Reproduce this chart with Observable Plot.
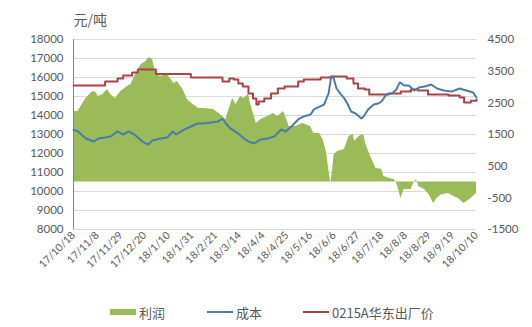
<!DOCTYPE html>
<html><head><meta charset="utf-8">
<script src="https://cdn.jsdelivr.net/npm/d3@7"></script>
<script src="https://cdn.jsdelivr.net/npm/@observablehq/plot@0.6"></script>
<style>
body{margin:0;background:#fff;font-family:Lato,"Noto Sans CJK SC",sans-serif;}
#wrap{position:relative;width:532px;height:327px;overflow:hidden;}
#legend{position:absolute;top:303px;left:0;width:532px;height:18px;font-size:13px;color:#595959;font-family:"Noto Sans CJK SC",Lato,sans-serif;}
.item{position:absolute;top:0;height:18px;display:flex;align-items:center;white-space:nowrap;}
.sw{display:inline-block;margin-right:3px;}
</style></head><body>
<div id="wrap"><div id="chart"></div><div id="legend"></div></div>
<script>
// ---- data ----
const profitDates = ["2017-10-18","2017-10-22","2017-10-29","2017-11-04","2017-11-07","2017-11-09","2017-11-13","2017-11-17","2017-11-20","2017-11-24","2017-11-29","2017-12-05","2017-12-08","2017-12-12","2017-12-17","2017-12-21","2017-12-24","2017-12-27","2017-12-30","2018-01-03","2018-01-09","2018-01-15","2018-01-18","2018-01-23","2018-01-27","2018-02-01","2018-02-06","2018-02-10","2018-02-19","2018-02-24","2018-03-02","2018-03-05","2018-03-08","2018-03-11","2018-03-15","2018-03-18","2018-03-22","2018-03-24","2018-03-29","2018-04-02","2018-04-08","2018-04-13","2018-04-17","2018-04-22","2018-04-24","2018-04-27","2018-05-03","2018-05-09","2018-05-16","2018-05-19","2018-05-24","2018-05-27","2018-05-30","2018-06-01","2018-06-03","2018-06-06","2018-06-09","2018-06-15","2018-06-19","2018-06-23","2018-06-24","2018-06-28","2018-07-02","2018-07-04","2018-07-09","2018-07-13","2018-07-18","2018-07-20","2018-07-25","2018-07-29","2018-07-31","2018-08-03","2018-08-04","2018-08-07","2018-08-13","2018-08-16","2018-08-18","2018-08-20","2018-08-25","2018-08-29","2018-09-02","2018-09-05","2018-09-09","2018-09-15","2018-09-20","2018-09-24","2018-09-29","2018-10-04","2018-10-10"];
const profitValues = [2230,2230,2640,2860,2830,2700,2760,2920,2760,2640,2860,3020,3080,3400,3710,3800,3930,3870,3430,3330,3400,3110,3170,2920,2600,2450,2320,2320,2290,2160,1970,2320,2640,2450,2700,2640,2760,2450,1850,1970,2070,2160,2070,2230,2070,1750,1750,1850,1750,1530,1530,1340,960,430,-50,870,960,1030,1440,1500,1280,1440,1500,1190,740,430,400,170,110,80,-10,-360,-520,-240,-240,0,80,-160,-240,-400,-680,-520,-400,-360,-460,-520,-680,-550,-360];

const costDates = ["2017-10-18","2017-10-22","2017-10-29","2017-11-05","2017-11-09","2017-11-15","2017-11-20","2017-11-26","2017-12-01","2017-12-06","2017-12-12","2017-12-18","2017-12-23","2017-12-27","2018-01-03","2018-01-09","2018-01-14","2018-01-17","2018-01-24","2018-01-30","2018-02-05","2018-02-10","2018-02-17","2018-02-23","2018-02-27","2018-03-02","2018-03-06","2018-03-13","2018-03-18","2018-03-22","2018-03-27","2018-04-02","2018-04-08","2018-04-14","2018-04-20","2018-04-24","2018-04-29","2018-05-05","2018-05-10","2018-05-16","2018-05-19","2018-05-24","2018-05-28","2018-06-01","2018-06-03","2018-06-05","2018-06-08","2018-06-12","2018-06-15","2018-06-18","2018-06-21","2018-06-25","2018-06-30","2018-07-02","2018-07-06","2018-07-11","2018-07-15","2018-07-18","2018-07-22","2018-07-27","2018-07-31","2018-08-03","2018-08-07","2018-08-11","2018-08-16","2018-08-20","2018-08-25","2018-08-31","2018-09-05","2018-09-11","2018-09-18","2018-09-25","2018-10-01","2018-10-07","2018-10-10"];
const costValues = [13260,13160,12790,12630,12790,12840,12900,13160,13000,13160,12950,12630,12470,12680,12790,12840,13160,13000,13260,13420,13580,13580,13630,13680,13840,13580,13320,13050,12790,12630,12530,12740,12790,12900,13260,13160,13420,13790,13950,14050,14320,14470,14580,15160,15950,16050,15420,15100,14900,14580,14210,14100,13840,13950,14320,14580,14630,14750,15100,15160,15370,15740,15580,15580,15320,15470,15530,15630,15420,15320,15260,15420,15320,15210,14950];

const priceDates = ["2017-10-18","2017-11-15","2017-11-26","2017-12-01","2017-12-09","2017-12-14","2017-12-30","2018-01-30","2018-02-27","2018-03-05","2018-03-09","2018-03-13","2018-03-17","2018-03-22","2018-03-26","2018-03-29","2018-03-31","2018-04-05","2018-04-11","2018-04-17","2018-04-23","2018-05-05","2018-05-10","2018-05-25","2018-06-03","2018-06-17","2018-06-23","2018-06-27","2018-07-03","2018-07-07","2018-07-24","2018-08-04","2018-08-13","2018-08-19","2018-08-28","2018-09-15","2018-09-25","2018-09-29","2018-10-05","2018-10-10"];
const priceValues = [15580,15790,15950,16100,16260,16420,16180,16000,15790,15950,15900,15680,15530,15160,14900,14580,14740,14900,15160,15420,15530,15790,15900,16000,16050,15950,15680,15420,15370,15100,15160,15260,15370,15320,15100,15050,14950,14680,14780,14840];

const tickDates = ["2017-10-18","2017-11-08","2017-11-29","2017-12-20","2018-01-10","2018-01-31","2018-02-21","2018-03-14","2018-04-04","2018-04-25","2018-05-16","2018-06-06","2018-06-27","2018-07-18","2018-08-08","2018-08-29","2018-09-19","2018-10-10"];
const leftTicks = [8000,9000,10000,11000,12000,13000,14000,15000,16000,17000,18000];
const rightTicks = [-1500,-500,500,1500,2500,3500,4500];
const seriesNames = ["利润","成本","0215A华东出厂价"];
const seriesColors = ["#9bbb59","#4a7bab","#ab4249"];
const unitLabel = "元/吨";

// ---- build ----
const parse = d3.utcParse("%Y-%m-%d");
const leftDomain = [8000, 18000];
const rightDomain = [-1500, 4500];
const toLeft = v => leftDomain[0] + (v - rightDomain[0]) * (leftDomain[1]-leftDomain[0]) / (rightDomain[1]-rightDomain[0]);
const fromLeft = y => Math.round(rightDomain[0] + (y - leftDomain[0]) * (rightDomain[1]-rightDomain[0]) / (leftDomain[1]-leftDomain[0]));

const profit = profitDates.map((d,i) => ({date: parse(d), v: profitValues[i]}));
const cost = costDates.map((d,i) => ({date: parse(d), v: costValues[i]}));
const price = priceDates.map((d,i) => ({date: parse(d), v: priceValues[i]}));
const ticks = tickDates.map(parse);
const xDomain = [ticks[0], ticks[ticks.length-1]];

const chart = Plot.plot({
  width: 532, height: 300,
  marginLeft: 73, marginRight: 56, marginTop: 39, marginBottom: 71,
  style: {fontFamily: 'Lato, "Noto Sans CJK SC", sans-serif', fontSize: "11.5px", color: "#595959", background: "#fff"},
  x: {type: "utc", domain: xDomain},
  y: {domain: leftDomain},
  marks: [
    Plot.gridY(leftTicks, {stroke: "#d9d9d9", strokeOpacity: 1}),
    Plot.areaY(profit, {x: "date", y1: () => toLeft(0), y2: d => toLeft(d.v), fill: seriesColors[0]}),
    Plot.ruleY([leftDomain[0]], {stroke: "#d9d9d9"}),
    Plot.ruleX([xDomain[0]], {stroke: "#868686"}),
    Plot.line(price, {x: "date", y: "v", stroke: seriesColors[2], strokeWidth: 2, curve: "step-after"}),
    Plot.line(cost, {x: "date", y: "v", stroke: seriesColors[1], strokeWidth: 2}),
    Plot.axisY(leftTicks, {anchor: "left", tickSize: 0, tickPadding: 10, label: null, tickFormat: d => String(d)}),
    Plot.axisY(rightTicks.map(toLeft), {anchor: "right", tickSize: 0, tickPadding: 11, label: null, tickFormat: d => String(fromLeft(d))}),
    Plot.axisX(ticks, {tickRotate: -45, tickSize: 0, tickPadding: 4, label: null, tickFormat: d3.utcFormat("%y/%-m/%-d"), fontSize: 10.5}),
    Plot.text([unitLabel], {frameAnchor: "top-left", dy: -24, textAnchor: "start", fontSize: 14, fill: "#595959", fontFamily: '"Noto Sans CJK SC", sans-serif'})
  ]
});
document.getElementById("chart").append(chart);

// ---- legend ----
const legend = document.getElementById("legend");
const lx = [110, 207, 303];
seriesNames.forEach((name, i) => {
  const item = document.createElement("div");
  item.className = "item";
  item.style.left = lx[i] + "px";
  const sw = document.createElement("span");
  sw.className = "sw";
  sw.style.width = "26px";
  sw.style.height = (i === 0 ? 6 : 2) + "px";
  sw.style.background = seriesColors[i];
  item.append(sw, document.createTextNode(name));
  legend.append(item);
});
</script>
</body></html>
